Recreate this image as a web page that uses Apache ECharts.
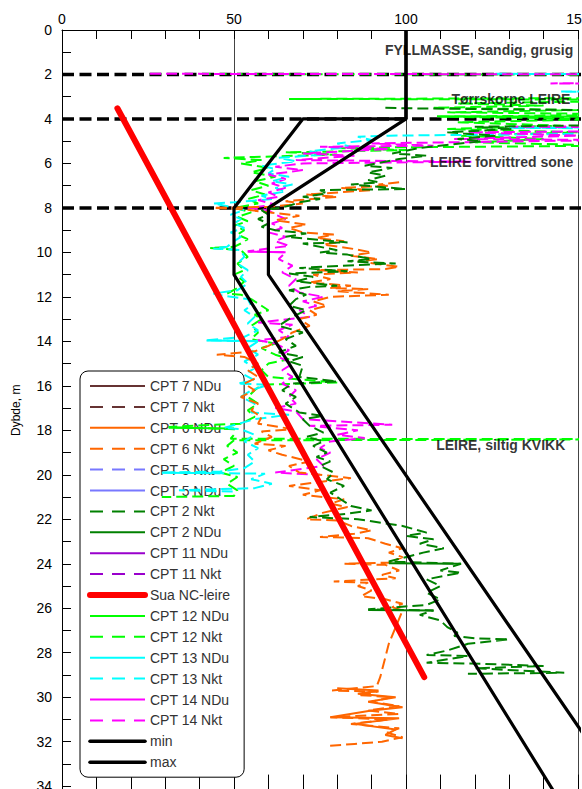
<!DOCTYPE html>
<html><head><meta charset="utf-8">
<script src="https://cdn.jsdelivr.net/npm/echarts@6/dist/echarts.min.js"></script>
<style>html,body{margin:0;padding:0;background:#fff}#c{width:582px;height:789px}</style>
</head><body><div id="c"></div>
<script>
// ---------- axes ----------
const xMin = 0, xMax = 150, xInterval = 50;
const yMin = 0, yMax = 34.2, yInterval = 2;
const axisName = 'Dybde, m';
const GAP = ['-', '-'];

// ---------- layer boundaries & annotations ----------
const layerDepths = [2, 4, 8];
const annoText = ['FYLLMASSE, sandig, grusig', 'Tørrskorpe LEIRE', 'LEIRE forvittred sone', 'LEIRE, siltig KVIKK'];
const annoValue = [148.6, 147.8, 148.6, 146.3];
const annoDepth = [0.9, 3.1, 5.92, 18.66];

// ---------- reference lines [value, depth] ----------
const suaValue = [16.1, 105.3];
const suaDepth = [3.52, 29.1];
const minLine = [[100, 0], [100, 4], [70, 4], [50, 8], [50, 11], [150, 36]];
const maxLine = [[100, 0], [100, 4], [60, 8], [60, 11], [170.8, 36]];

// ---------- CPT profiles [value, depth] ----------
const cpt7NDu = [];
const cpt7Nkt = [];
const cpt5Nkt = [];
const cpt5NDu = [];
const cpt11NDu = [];
const cpt11Nkt = [];

const cpt12Nkt = [[40,1.98],[200,2.02],[200,3.05],[66,3.1],[200,3.14],[160,3.2],[115,3.3],[140,3.4],[108,3.5],[150,3.6],[112,3.7],[170,3.8],[110,3.9],[160,4.0],[115,4.15],[145,4.3],[112,4.45],[150,4.6],[116,4.75],[140,4.9],[120,5.05],[160,5.2],[78,5.3],[100,5.4],[65,5.5],[80,5.6],[47,5.75],[58,5.85],[52,6.0],[60,6.2],[55,6.4],[62,6.6],[56,6.8],[60,7.0],[55,7.2],[59,7.4],[54,7.6],[57,7.8],[50,8.0],[55,8.2],[51,8.4],[54,8.6],[50,8.8],[53,9.0],[51,9.2],[54,9.4],[52,9.6],[50,9.75],[43,9.8],[52,9.9],[54,10.2],[51,10.5],[53,10.8],[50,11.0],[53,11.3],[51,11.6],[48,11.85],[52,11.9],[55,12.1],[58,12.4],[60,12.6],[56,12.8],[58,13.0],[55,13.3],[57,13.6],[55,13.9],[62,14.1],[58,14.3],[62,14.6],[66,14.8],[60,15.0],[58,15.3],[60,15.6],[80,15.85],[58,15.95],[56,16.2],[54,16.5],[57,16.8],[54,17.1],[56,17.4],[52,17.7],[31,17.85],[50,17.95],[50,18.2],[49,18.38],[200,18.4],[200,18.42],[50,18.45],[48,18.7],[51,19.0],[47,19.3],[50,19.6],[46,19.9],[51,20.1],[48,20.4],[51,20.7],[50,20.95],[29,21.0]];
const cpt12NDu = [[109,3.88],[170,3.9],GAP,[31,17.88],[50,17.92]];

const cpt13Nkt = [[126,1.97],[200,2.0],[200,2.7],[145,2.77],[200,2.82],[200,4.35],[130,4.4],[200,4.45],[200,4.6],[95,4.75],[86,4.8],[90,4.95],[80,5.1],[84,5.25],[72,5.45],[76,5.6],[63,5.75],[68,5.9],[58,6.1],[62,6.25],[60,6.45],[66,6.6],[61,6.8],[67,6.95],[62,7.1],[65,7.25],[58,7.45],[61,7.6],[50,7.75],[44,7.8],[49,7.95],[53,8.1],[49,8.3],[52,8.5],[50,8.7],[53,8.9],[49,9.1],[52,9.3],[50,9.5],[48,9.75],[44,9.82],[52,9.9],[53,10.2],[51,10.5],[54,10.8],[52,11.1],[54,11.4],[51,11.7],[44,11.85],[46,11.92],[54,12.1],[55,12.4],[53,12.6],[56,12.9],[54,13.2],[57,13.5],[53,13.8],[42,13.95],[57,14.0],[54,14.3],[57,14.6],[53,14.9],[56,15.2],[53,15.5],[56,15.75],[51,15.9],[60,15.95],[55,16.2],[52,16.5],[56,16.8],[55,17.2],[66,17.3],[56,17.5],[47,17.9],[52,17.95],[56,18.2],[53,18.5],[57,18.8],[54,19.1],[56,19.4],[53,19.7],[46,19.85],[29,19.9],[59,19.95],[55,20.2],[61,20.4],[56,20.6],[34,20.7],[50,20.75]];
const cpt13NDu = [[42,13.96],[57,13.98],GAP,[29,19.91],[46,19.93]];

const cpt14Nkt = [[25.6,1.97],[200,2.0],[200,2.35],[142,2.4],[200,2.45],[200,4.3],[131,4.35],[200,4.4],[200,4.5],[118,4.6],[150,4.75],[114,4.9],[160,4.95],[90,5.1],[108,5.2],[75,5.25],[95,5.35],[70,5.55],[85,5.65],[68,5.85],[119,5.92],[70,6.0],[62,6.15],[70,6.3],[60,6.5],[65,6.7],[61,6.9],[65,7.1],[60,7.3],[63,7.5],[57,7.65],[62,7.85],[54,8.0],[60,8.1],[62,8.3],[65,8.5],[61,8.7],[64,8.9],[60,9.1],[65,9.3],[62,9.5],[66,9.7],[54,9.95],[65,10.0],[63,10.3],[67,10.6],[64,10.9],[68,11.2],[66,11.5],[69,11.8],[76,12.0],[70,12.2],[74,12.4],[69,12.6],[72,12.9],[57,13.15],[67,13.25],[63,13.5],[66,13.8],[57,13.95],[62,14.1],[66,14.4],[63,14.7],[67,15.0],[64,15.3],[67,15.6],[64,15.9],[68,16.2],[66,16.5],[68,16.8],[62,17.0],[68,17.15],[70,17.5],[96,17.75],[72,17.8],[86,18.0],[80,18.2],[88,18.35],[78,18.5],[75,18.8],[78,19.0],[74,19.3],[76,19.6],[62,19.9],[75,20.0]];
const cpt14NDu = [[54,9.97],[65,9.99]];

const cpt2Nkt = [[94,3.5],[100,3.52],[150,3.6],[200,3.8],[200,4.2],[120,4.35],[131,4.45],[112,4.6],[126,4.75],[115,4.9],[122,5.0],[104,5.3],[96,5.55],[106,5.65],[98,5.8],[88,6.1],[96,6.2],[89,6.4],[94,6.55],[89,6.75],[92,6.85],[84,6.95],[100,7.15],[75,7.2],[77,7.35],[70,7.5],[75,7.6],[69,7.75],[66,7.9],[63,8.0],[58,8.1],[60,8.3],[57,8.5],[60,8.7],[58,8.85],[62,9.0],[71,9.15],[65,9.3],[83,9.55],[70,9.6],[80,9.9],[75,10.0],[83,10.1],[90,10.3],[83,10.4],[97,10.5],[88,10.55],[69,10.7],[83,10.85],[66,10.95],[73,11.1],[68,11.3],[80,11.5],[72,11.55],[66,11.7],[71,11.9],[68,12.1],[66,12.4],[71,12.6],[67,12.9],[63,13.3],[70,13.6],[65,13.9],[68,14.2],[63,14.5],[70,14.7],[66,14.9],[70,15.1],[69,15.6],[80,15.8],[67,15.9],[64,16.2],[68,16.5],[65,16.8],[69,17.2],[76,17.35],[70,17.5],[72,17.8],[76,18.1],[71,18.3],[76,18.5],[73,18.7],[77,19.0],[74,19.2],[78,19.4],[75,19.6],[79,19.9],[77,20.2],[82,20.5],[78,20.8],[81,21.1],[84,21.4],[90,21.6],[83,21.75],[72,21.9],[86,22.0],[99,22.3],[106,22.6],[100,22.75],[108,22.9],[104,23.1],[111,23.3],[105,23.5],[95,23.9],[116,24.0],[110,24.3],[116,24.4],[106,24.7],[110,25.0],[106,25.3],[110,25.6],[106,25.85],[89,26.05],[108,26.1],[104,26.3],[110,26.55],[112,26.85],[115,27.1],[114,27.25],[120,27.35],[130,27.4],[118,27.6],[112,27.9],[106,28.1],[118,28.15],[106,28.45],[122,28.5],[140,28.6],[120,28.7],[146,28.9],[118,28.95]];
const cpt2NDu = [[95,23.98],[116,24.0],GAP,[89,26.08],[108,26.1]];

const cpt6Nkt = [[98,6.85],[92,6.95],[95,7.0],[81,7.1],[90,7.2],[71,7.4],[80,7.5],[65,7.7],[70,7.8],[60,7.95],[44,8.0],[52,8.05],[60,8.2],[69,8.35],[62,8.55],[71,8.75],[66,8.9],[70,9.1],[79,9.2],[74,9.35],[82,9.5],[76,9.65],[85,9.85],[90,10.0],[84,10.15],[92,10.3],[86,10.4],[98,10.65],[94,10.75],[74,10.8],[86,10.9],[73,11.0],[78,11.2],[72,11.35],[84,11.5],[78,11.6],[89,11.65],[80,11.75],[95,11.9],[78,12.0],[73,12.2],[77,12.4],[72,12.6],[74,12.8],[69,13.0],[72,13.3],[67,13.6],[64,13.9],[60,14.2],[56,14.45],[45,14.6],[53,14.7],[57,15.0],[54,15.3],[57,15.6],[53,15.9],[56,16.2],[52,16.5],[57,16.8],[55,17.1],[58,17.4],[57,17.7],[67,17.95],[58,18.05],[61,18.3],[56,18.6],[65,18.7],[60,18.9],[64,19.1],[72,19.4],[66,19.6],[69,19.9],[84,20.15],[76,20.3],[66,20.5],[75,20.7],[70,20.9],[82,21.1],[78,21.3],[83,21.45],[76,21.7],[71,22.0],[80,22.05],[84,22.3],[90,22.5],[85,22.65],[75,22.8],[89,22.85],[94,23.1],[99,23.3],[95,23.5],[99,23.7],[95,23.95],[82,24.0],[94,24.05],[98,24.3],[93,24.5],[97,24.65],[79,24.8],[89,24.85],[86,25.0],[90,25.2],[87,25.45],[94,25.6],[99,25.8],[96,25.95],[99,26.1],[95,27.6],[92.5,29.1],[91.5,29.5],[78.5,29.7],[92,29.75],[86,29.9],[96,30.0],[90,30.2],[98,30.4],[89,30.6],[98,30.75],[78,30.9],[95,31.0],[84,31.2],[98,31.4],[94.5,31.6],[99,31.8],[93,32.0],[85,32.1],[77,32.2]];
const cpt6NDu = [[80,29.6],[92,29.7],[86,29.85],[97,30.0],[89,30.2],[99,30.45],[90,30.6],[78,30.9],[98,30.95],[85,31.2],[97,31.45],[94,31.7],[99,31.85]];

// ---------- legend order / styles ----------
const legendNames = ['CPT 7 NDu','CPT 7 Nkt','CPT 6 NDu','CPT 6 Nkt','CPT 5 Nkt','CPT 5 NDu','CPT 2 Nkt','CPT 2 NDu','CPT 11 NDu','CPT 11 Nkt','Sua NC-leire','CPT 12 NDu','CPT 12 Nkt','CPT 13 NDu','CPT 13 Nkt','CPT 14 NDu','CPT 14 Nkt','min','max'];
const C = { c7:'#663333', c6:'#FF6600', c5:'#7878FF', c2:'#008000', c11:'#9900CC', sua:'#FF0000', c12:'#00FF00', c13:'#00FFFF', c14:'#FF00FF', k:'#000000' };

const FONT = 'Liberation Sans, Arial, sans-serif';
const DASH = [11, 5];
const LEG_DASH = [13, 9];

function cpt(name, color, dashed, data) {
  return { name, type: 'line', data, symbol: 'none', clip: false, z: 3, silent: true,
    lineStyle: { color, width: 2, type: dashed ? DASH : 'solid' }, itemStyle: { color },
    emphasis: { disabled: true } };
}

const layerData = [];
layerDepths.forEach((d, i) => { if (i) layerData.push(GAP); layerData.push([xMin, d], [xMax + 5, d]); });

const series = [
  { name: 'layers', type: 'line', data: layerData, symbol: 'none', clip: false, z: 2, silent: true,
    lineStyle: { color: '#000', width: 3.5, type: [12, 5.5] } },
  cpt('CPT 7 NDu', C.c7, false, cpt7NDu),
  cpt('CPT 7 Nkt', C.c7, true, cpt7Nkt),
  cpt('CPT 5 Nkt', C.c5, true, cpt5Nkt),
  cpt('CPT 5 NDu', C.c5, false, cpt5NDu),
  cpt('CPT 11 NDu', C.c11, false, cpt11NDu),
  cpt('CPT 11 Nkt', C.c11, true, cpt11Nkt),
  cpt('CPT 12 NDu', C.c12, false, cpt12NDu),
  cpt('CPT 12 Nkt', C.c12, true, cpt12Nkt),
  cpt('CPT 13 NDu', C.c13, false, cpt13NDu),
  cpt('CPT 13 Nkt', C.c13, true, cpt13Nkt),
  cpt('CPT 14 NDu', C.c14, false, cpt14NDu),
  cpt('CPT 14 Nkt', C.c14, true, cpt14Nkt),
  cpt('CPT 6 NDu', C.c6, false, cpt6NDu),
  cpt('CPT 6 Nkt', C.c6, true, cpt6Nkt),
  cpt('CPT 2 NDu', C.c2, false, cpt2NDu),
  cpt('CPT 2 Nkt', C.c2, true, cpt2Nkt),
  { name: 'min', type: 'line', data: minLine, symbol: 'none', clip: false, z: 4, silent: true,
    lineStyle: { color: '#000', width: 3.2 }, itemStyle: { color: '#000' } },
  { name: 'max', type: 'line', data: maxLine, symbol: 'none', clip: false, z: 4, silent: true,
    lineStyle: { color: '#000', width: 3.2 }, itemStyle: { color: '#000' } },
  { name: 'Sua NC-leire', type: 'line', data: suaValue.map((v, i) => [v, suaDepth[i]]), symbol: 'none', clip: false, z: 5, silent: true,
    lineStyle: { color: C.sua, width: 6, cap: 'round' }, itemStyle: { color: C.sua } },
  { name: 'annotations', type: 'scatter', z: 6, silent: true, symbolSize: 0,
    data: annoText.map((t, i) => ({ name: t, value: [annoValue[i], annoDepth[i]] })),
    label: { show: true, position: 'left', distance: 0, formatter: '{b}', color: '#000',
      fontFamily: FONT, fontWeight: 'bold', fontSize: 14 } }
];

const legendData = legendNames.map(n => {
  const dashed = / Nkt$/.test(n);
  let w = 2, cap = 'butt';
  if (n === 'Sua NC-leire') { w = 6; cap = 'round'; }
  if (n === 'min' || n === 'max') { w = 3.5; cap = 'round'; }
  return { name: n, itemStyle: { opacity: 0 }, lineStyle: { width: w, type: dashed ? LEG_DASH : 'solid', cap } };
});

const chart = echarts.init(document.getElementById('c'), null, { renderer: 'svg', width: 582, height: 789 });
chart.setOption({
  animation: false,
  backgroundColor: '#fff',
  grid: { left: 62, top: 30, right: 4, bottom: -1.6, containLabel: false, outerBoundsMode: 'none' },
  legend: {
    data: legendData, orient: 'vertical', left: 80, top: 371, z: 2.5,
    padding: [8, 14, 8, 7], itemWidth: 55, itemHeight: 14, itemGap: 6.9,
    backgroundColor: '#fff', borderColor: '#000', borderWidth: 1, borderRadius: 8,
    selectedMode: false, itemStyle: { opacity: 0 },
    textStyle: { fontFamily: FONT, fontSize: 14, color: '#333' }
  },
  xAxis: [{
    type: 'value', position: 'top', min: xMin, max: xMax, interval: xInterval,
    axisLine: { show: true, lineStyle: { color: '#000', width: 1 } },
    axisTick: { show: true, inside: true, length: 9, lineStyle: { color: '#000' } },
    minorTick: { show: true, splitNumber: 5, length: 9, lineStyle: { color: '#000' } },
    splitLine: { show: true, lineStyle: { color: '#444', width: 1 } },
    axisLabel: { fontFamily: FONT, fontSize: 14, color: '#000', margin: 4 }
  }, {
    type: 'value', position: 'bottom', min: xMin, max: xMax, interval: xInterval,
    axisLine: { show: true, lineStyle: { color: '#000', width: 1 } },
    axisTick: { show: true, inside: true, length: 16, lineStyle: { color: '#000' } },
    minorTick: { show: true, splitNumber: 5, length: 16, lineStyle: { color: '#000' } },
    splitLine: { show: false }, axisLabel: { show: false }
  }],
  yAxis: {
    type: 'value', inverse: true, min: yMin, max: yMax, interval: yInterval,
    name: axisName, nameLocation: 'middle', nameGap: 40, nameRotate: 90,
    nameTextStyle: { fontFamily: FONT, fontSize: 12, color: '#000' },
    axisLine: { show: true, lineStyle: { color: '#000', width: 1 } },
    axisTick: { show: true, inside: true, length: 9, lineStyle: { color: '#000' } },
    minorTick: { show: true, splitNumber: 2, length: 9, lineStyle: { color: '#000' } },
    splitLine: { show: false },
    axisLabel: { fontFamily: FONT, fontSize: 14, color: '#000', margin: 10,
      formatter: v => (Math.abs(v - Math.round(v)) < 1e-6 && Math.round(v) % 2 === 0) ? String(Math.round(v)) : '' }
  },
  series
});
</script></body></html>
